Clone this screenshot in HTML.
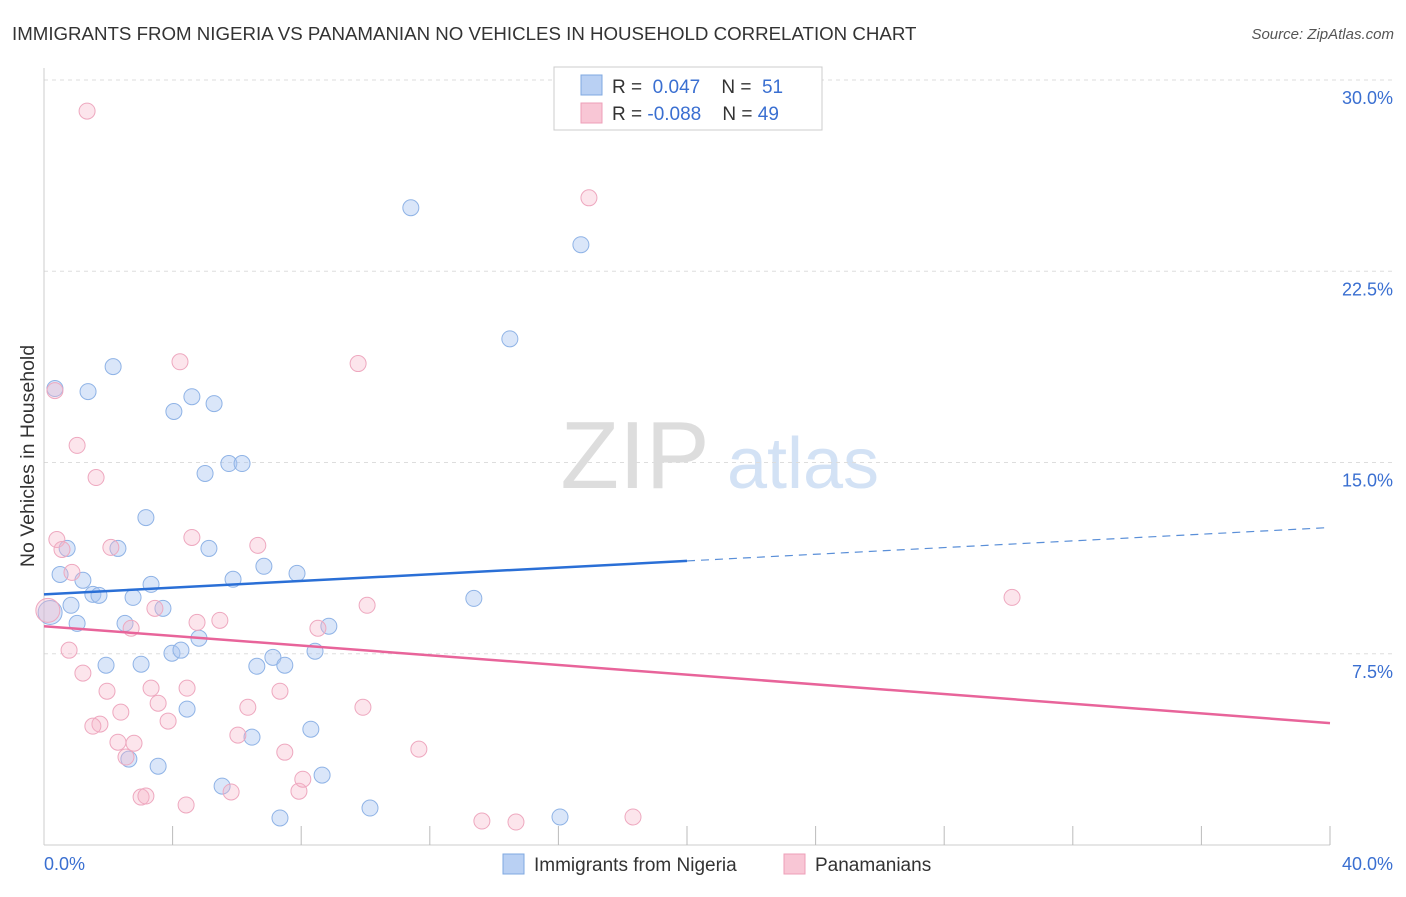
<!DOCTYPE html>
<html><head><meta charset="utf-8"><style>
body{margin:0;background:#fff;font-family:"Liberation Sans",sans-serif;}
svg text{font-family:"Liberation Sans",sans-serif;}
</style></head><body>
<svg id="chart" width="1406" height="892" viewBox="0 0 1406 892" xmlns="http://www.w3.org/2000/svg">
<text x="12" y="40" font-size="18.7" fill="#333">IMMIGRANTS FROM NIGERIA VS PANAMANIAN NO VEHICLES IN HOUSEHOLD CORRELATION CHART</text>
<text x="1394" y="39" font-size="15" fill="#555" text-anchor="end" font-style="italic">Source: ZipAtlas.com</text>
<g>
<text x="635" y="488" font-size="96" fill="#ddd" text-anchor="middle" font-family="Liberation Serif, serif">ZIP</text>
<text x="803" y="488" font-size="72" fill="#d3e2f5" text-anchor="middle">atlas</text>
</g>
<g id="grid"></g>
<g id="axes"></g>
<g id="pts"></g>
<g id="trend"></g>
<text transform="translate(34,456) rotate(-90)" font-size="19.5" fill="#333" text-anchor="middle">No Vehicles in Household</text>
<g>
<rect x="554" y="67" width="268" height="63" fill="#fff" stroke="#ccc"/>
<rect x="581" y="75" width="21" height="20" fill="#b9d0f3" stroke="#7fa8e0"/>
<rect x="581" y="103" width="21" height="20" fill="#f8c6d5" stroke="#ee9fb8"/>
<text x="612" y="93" font-size="19" fill="#333">R = <tspan fill="#3a6fd1">&#160;0.047</tspan>&#160;&#160;&#160;&#160;N = <tspan fill="#3a6fd1">&#160;51</tspan></text>
<text x="612" y="120" font-size="19" fill="#333">R = <tspan fill="#3a6fd1">-0.088</tspan>&#160;&#160;&#160;&#160;N = <tspan fill="#3a6fd1">49</tspan></text>
</g>
<g>
<rect x="503" y="854" width="21" height="20" fill="#b9d0f3" stroke="#7fa8e0"/>
<text x="534" y="871" font-size="19" fill="#333">Immigrants from Nigeria</text>
<rect x="784" y="854" width="21" height="20" fill="#f8c6d5" stroke="#ee9fb8"/>
<text x="815" y="871" font-size="19" fill="#333">Panamanians</text>
</g>
</svg>
<script>
const yTicks=[7.5,15,22.5,30];
const yTickLabels=["7.5%","15.0%","22.5%","30.0%"];
const xTickLabels=["0.0%","40.0%"];
const blueX=[0.34,0.50,0.72,0.84,1.03,1.21,1.37,1.52,1.71,1.93,2.15,2.30,2.52,2.64,2.77,3.02,3.17,3.33,3.55,3.70,3.98,4.04,4.26,4.45,4.60,4.82,5.01,5.13,5.29,5.54,5.75,5.88,6.16,6.47,6.62,6.84,7.12,7.34,7.49,7.87,8.30,8.43,8.65,8.86,10.14,11.41,13.37,14.49,16.05,16.70,0.19];
const blueY=[17.90,10.61,11.63,9.40,8.69,10.38,17.78,9.83,9.79,7.05,18.76,11.63,8.69,3.37,9.71,7.09,12.84,10.22,3.09,9.28,7.52,17.00,7.64,5.33,17.58,8.11,14.57,11.63,17.31,2.31,14.96,10.42,14.96,4.23,7.01,10.93,7.36,1.06,7.05,10.65,4.54,7.60,2.74,8.58,1.45,24.99,9.67,19.85,1.10,23.54,9.12];
const pinkX=[1.34,0.34,1.03,1.62,0.40,0.56,0.87,0.78,1.21,0.12,1.74,1.52,1.96,2.08,2.30,2.39,2.55,2.71,2.80,3.02,3.17,3.33,3.45,3.55,3.86,4.23,4.42,4.45,4.60,4.76,5.47,5.82,6.03,6.34,6.65,7.34,7.49,7.93,8.05,8.52,9.77,9.92,10.05,11.66,13.62,14.68,16.95,18.32,30.11];
const pinkY=[28.78,17.82,15.67,14.41,11.98,11.59,10.69,7.64,6.74,9.20,4.74,4.66,6.03,11.67,4.03,5.21,3.45,8.50,3.99,1.88,1.92,6.15,9.28,5.56,4.86,18.95,1.57,6.15,12.06,8.73,8.81,2.08,4.31,5.40,11.75,6.03,3.64,2.11,2.58,8.50,18.88,5.40,9.40,3.76,0.94,0.90,25.38,1.10,9.71];
const blueTrend=[9.83,12.45];
const pinkTrend=[8.58,4.78];
const NS="http://www.w3.org/2000/svg";
const X0=44,X1=1330,Y0=845,YT=80;
const sx=v=>X0+(v/40)*(X1-X0);
const sy=v=>Y0-(v/30)*(Y0-YT);
function mk(tag,attrs,parent){const e=document.createElementNS(NS,tag);for(const k in attrs)e.setAttribute(k,attrs[k]);parent.appendChild(e);return e;}
const grid=document.getElementById('grid'),axes=document.getElementById('axes');
yTicks.forEach((t,i)=>{
 const l=mk('line',{x1:X0,x2:1393,y1:sy(t),y2:sy(t),stroke:'#ddd','stroke-dasharray':'4,4'},grid);
 
 
 const tx=mk('text',{x:1393,y:sy(t)+24,'font-size':18,fill:'#3a6fd1','text-anchor':'end'},axes);
 tx.textContent=yTickLabels[i];
 
 
});
const ya=mk('line',{x1:X0,x2:X0,y1:68,y2:Y0,stroke:'#ccc'},axes);


const xa=mk('line',{x1:X0,x2:X1,y1:Y0,y2:Y0,stroke:'#ccc'},axes);


for(let i=1;i<=10;i++){
 const t=mk('line',{x1:sx(i*4),x2:sx(i*4),y1:826,y2:Y0,stroke:'#bbb'},axes);
 
 
}
const xl0=mk('text',{x:44,y:870,'font-size':18,fill:'#3a6fd1'},axes);xl0.textContent=xTickLabels[0];


const xl1=mk('text',{x:1393,y:870,'font-size':18,fill:'#3a6fd1','text-anchor':'end'},axes);xl1.textContent=xTickLabels[1];


const pts=document.getElementById('pts');
function dots(xs,ys,fill,stroke,name){xs.forEach((x,i)=>{
 const r=(x<0.25)?12:8;
 const c=mk('circle',{cx:sx(x),cy:sy(ys[i]),r:r,fill:fill,stroke:stroke,'stroke-width':1},pts);
 
 
});}
dots(blueX,blueY,'rgba(168,196,240,0.42)','#8fb3e6','point-nigeria');
dots(pinkX,pinkY,'rgba(245,180,200,0.35)','#eea8bf','point-panamanian');
const tr=document.getElementById('trend');
const bmid=blueTrend[0]+(blueTrend[1]-blueTrend[0])*0.5;
const b1=mk('line',{x1:sx(0),y1:sy(blueTrend[0]),x2:sx(20),y2:sy(bmid),stroke:'#2a6fd6','stroke-width':2.5},tr);


const b2=mk('line',{x1:sx(20),y1:sy(bmid),x2:sx(40),y2:sy(blueTrend[1]),stroke:'#5a8fd8','stroke-width':1.2,'stroke-dasharray':'8,6'},tr);


const p1=mk('line',{x1:sx(0),y1:sy(pinkTrend[0]),x2:sx(40),y2:sy(pinkTrend[1]),stroke:'#e8649a','stroke-width':2.5},tr);


</script>
</body></html>
